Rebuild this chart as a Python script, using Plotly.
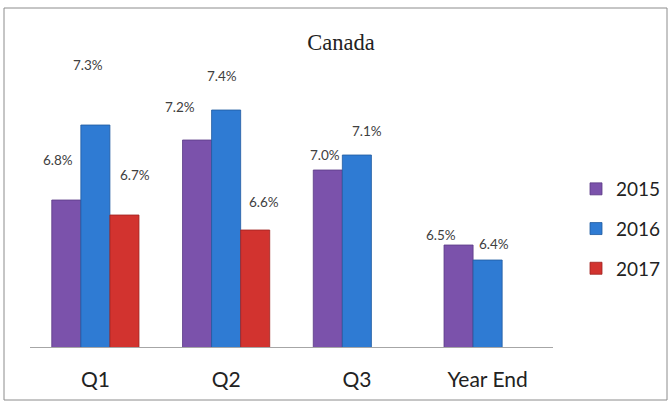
import plotly.graph_objects as go

categories = ["Q1", "Q2", "Q3", "Year End"]
series_names = ["2015", "2016", "2017"]
values_2015 = [6.8, 7.2, 7.0, 6.5]
values_2016 = [7.3, 7.4, 7.1, 6.4]
values_2017 = [6.7, 6.6, None, None]

colors = ["#7B52AB", "#2F7BD3", "#D2332F"]
edge_colors = ["#5B3A85", "#1F5AA0", "#9E2220"]

# label offsets (pixels) as placed in the original chart
label_dx = [[-8, -17, -3, -18], [-7, -4, 10, 6], [11, 9, 0, 0]]
label_dy = [[40, 33, 15, 10], [60, 34, 24, 16], [40, 28, 0, 0]]

L, R, T, B = 30, 117, 47, 55
W, H = 670, 402
pw, ph = W - L - R, H - T - B

fig = go.Figure()
all_vals = [values_2015, values_2016, values_2017]
for i, (name, vals) in enumerate(zip(series_names, all_vals)):
    fig.add_trace(go.Bar(
        x=categories, y=vals, name=name, offsetgroup=str(i),
        legendgroup=name,
        marker=dict(color=colors[i], line=dict(color=edge_colors[i], width=0.8)),
        hoverinfo="skip",
    ))

lab_font = dict(family="Lato, Carlito, Open Sans, sans-serif", size=13.5, color="#404040")
n = len(series_names)
for i, vals in enumerate(all_vals):
    for j, v in enumerate(vals):
        if v is None:
            continue
        fig.add_annotation(
            x=categories[j], y=v, xref="x", yref="y",
            text=f"{v:.1f}%", showarrow=False,
            xshift=(i - (n - 1) / 2) * (pw / 4 * (2 / 3) / n) + label_dx[i][j],
            yshift=label_dy[i][j],
            font=lab_font,
        )

def px_to_paper_x(px):
    return (px - L) / pw

def px_to_paper_y(py):
    return (H - B - py) / ph

fig.add_shape(type="rect", xref="paper", yref="paper",
              x0=px_to_paper_x(4), x1=px_to_paper_x(667),
              y0=px_to_paper_y(400), y1=px_to_paper_y(8),
              line=dict(color="#8C8C8C", width=1), layer="below")

fig.update_layout(
    width=W, height=H, autosize=False,
    margin=dict(l=L, r=R, t=T, b=B, autoexpand=False),
    paper_bgcolor="white", plot_bgcolor="white",
    barmode="group", bargap=0.333, bargroupgap=0,
    title=dict(text="Canada", x=341 / W, xanchor="center",
               y=1 - 42 / H, yanchor="middle",
               font=dict(family="Liberation Serif, Times New Roman, serif", size=22.5, color="#222222")),
    showlegend=True,
    legend=dict(x=px_to_paper_x(576), xanchor="left", y=px_to_paper_y(229), yanchor="middle",
                font=dict(family="Lato, Carlito, Open Sans, sans-serif", size=19, color="#222222"),
                tracegroupgap=12, traceorder="grouped", bgcolor="rgba(0,0,0,0)"),
    xaxis=dict(showline=True, linecolor="#A6A6A6", linewidth=1,
               ticks="outside", ticklen=14, tickcolor="rgba(0,0,0,0)",
               tickfont=dict(family="Lato, Carlito, Open Sans, sans-serif", size=21, color="#222222"),
               showgrid=False, fixedrange=True, automargin=False),
    yaxis=dict(range=[5.82, 7.82], visible=False, showgrid=False, zeroline=False, fixedrange=True),
)

fig.write_html("out.html", config={"displayModeBar": False, "responsive": False},
               post_script="document.documentElement.style.overflow='hidden';"
                           "document.body.style.overflow='hidden';"
                           "document.body.style.margin='0';document.body.style.padding='0';")
